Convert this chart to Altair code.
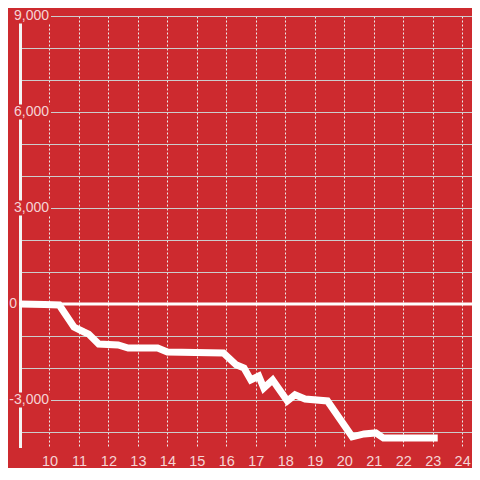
import altair as alt
import pandas as pd

# series
hours = [9.0, 9.83, 10.33, 10.83, 11.17, 11.33, 11.67, 12.33, 12.67, 13.67, 14.0,
         15.9, 16.33, 16.6, 16.83, 17.1, 17.27, 17.57, 18.07, 18.33, 18.67, 19.43,
         20.27, 20.67, 21.07, 21.33, 23.17]
values = [0, -15, -30, -720, -875, -940, -1250, -1280, -1375, -1375, -1500,
          -1530, -1900, -2000, -2375, -2250, -2625, -2375, -3030, -2840, -2970, -3030,
          -4150, -4060, -4030, -4190, -4190]

x_ticks = list(range(10, 25))
y_grid = [-4000, -3000, -2000, -1000, 0, 1000, 2000, 3000, 4000, 5000, 6000, 7000, 8000, 9000]
y_label_values = [-3000, 3000, 6000, 9000]
y_label_texts = ["-3,000", "3,000", "6,000", "9,000"]
zero_label = ["0"]

BG = "#cd2a2f"
LABEL = "#f5d4d5"
FONT = "Liberation Sans"

df = pd.DataFrame({"hour": hours, "value": values})
labels_df = pd.DataFrame({"value": y_label_values, "label": y_label_texts})
zero_df = pd.DataFrame({"value": [0], "label": zero_label})

x_scale = alt.Scale(domain=[9, 24.3333], nice=False, zero=False)
y_scale = alt.Scale(domain=[-4500, 9000], nice=False)
y_axis = alt.Axis(values=y_grid, grid=True, gridColor="#cccccc", gridWidth=1,
                  domain=False, ticks=False, labels=False, title=None)
x_axis = alt.Axis(values=x_ticks, grid=True, gridDash=[2, 2], gridColor="#ececec",
                  gridWidth=1, domain=False, ticks=False, labelPadding=6,
                  labelFontSize=14.5, labelColor=LABEL, labelFont=FONT, title=None)

line = alt.Chart(df).mark_line(color="white", strokeWidth=7, strokeCap="butt").encode(
    x=alt.X("hour:Q", scale=x_scale, axis=x_axis),
    y=alt.Y("value:Q", scale=y_scale, axis=y_axis),
)

zero_rule = alt.Chart(zero_df).mark_rule(color="white", strokeWidth=3).encode(
    y=alt.Y("value:Q", scale=y_scale, axis=y_axis),
    x=alt.value(-1),
    x2=alt.value(452),
)

axis_rule = alt.Chart(zero_df).mark_rule(color="#f4f4f4", strokeWidth=3).encode(
    x=alt.value(0.5),
    y=alt.value(0),
    y2=alt.value(432),
)

label_bg = alt.Chart(labels_df).mark_rule(color=BG, strokeWidth=15, strokeCap="butt").encode(
    x=alt.value(-2),
    x2=alt.value(31),
    y=alt.Y("value:Q", scale=y_scale, axis=y_axis),
)

label_text = alt.Chart(labels_df).mark_text(
    align="right", baseline="middle", fontSize=14, font=FONT, color=LABEL
).encode(
    x=alt.value(29),
    y=alt.Y("value:Q", scale=y_scale, axis=y_axis),
    text="label:N",
)

zero_text = alt.Chart(zero_df).mark_text(
    align="right", baseline="middle", fontSize=14, font=FONT, color=LABEL
).encode(
    x=alt.value(-3),
    y=alt.Y("value:Q", scale=y_scale, axis=y_axis),
    text="label:N",
)

chart = alt.layer(axis_rule, zero_rule, line, label_bg, label_text, zero_text).properties(
    width=452,
    height=432,
    background=BG,
    padding={"left": 12, "top": 8, "right": 0, "bottom": 20},
    autosize=alt.AutoSizeParams(type="none"),
).configure_view(strokeWidth=0)

chart.save("out.html", embed_options={"renderer": "svg", "actions": False})
